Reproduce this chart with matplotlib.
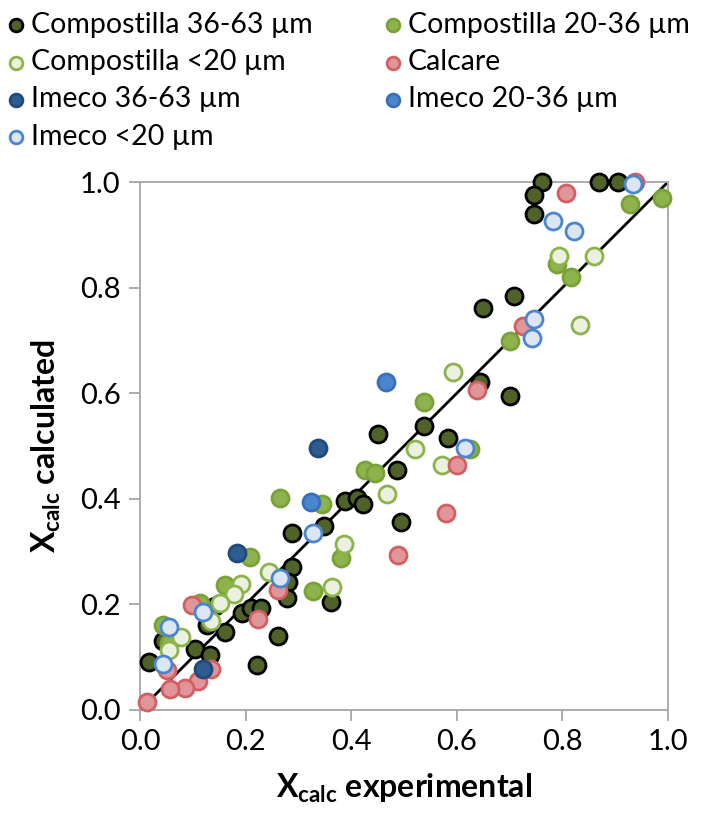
import numpy as np
import matplotlib
matplotlib.use('Agg')
from matplotlib import pyplot as plt

plt.rcParams['font.family'] = ['Lato', 'DejaVu Sans']
plt.rcParams['mathtext.fontset'] = 'custom'
plt.rcParams['mathtext.rm'] = 'Lato'
plt.rcParams['mathtext.bf'] = 'Lato:bold'

# Compostilla 36-63 um
comp_big_x = [0.762, 0.747, 0.746, 0.869, 0.906, 0.709, 0.650, 0.644, 0.701, 0.537, 0.584, 0.450,
              0.487, 0.494, 0.388, 0.410, 0.423, 0.349, 0.287, 0.287, 0.280, 0.278, 0.361, 0.262,
              0.222, 0.193, 0.211, 0.230, 0.142, 0.126, 0.160, 0.105, 0.133, 0.044, 0.017]
comp_big_y = [1.000, 0.975, 0.939, 1.000, 1.000, 0.784, 0.761, 0.622, 0.595, 0.538, 0.516, 0.523,
              0.455, 0.356, 0.396, 0.402, 0.390, 0.348, 0.336, 0.271, 0.243, 0.212, 0.204, 0.140,
              0.085, 0.183, 0.193, 0.194, 0.196, 0.161, 0.148, 0.115, 0.104, 0.131, 0.090]

# Compostilla 20-36 um
comp_mid_x = [0.928, 0.989, 0.790, 0.816, 0.700, 0.537, 0.625, 0.426, 0.445, 0.265, 0.344, 0.381,
              0.327, 0.208, 0.160, 0.114, 0.044, 0.054]
comp_mid_y = [0.958, 0.969, 0.844, 0.820, 0.698, 0.584, 0.494, 0.455, 0.448, 0.401, 0.391, 0.287,
              0.226, 0.290, 0.236, 0.202, 0.161, 0.126]

# Compostilla <20 um
comp_small_x = [0.794, 0.860, 0.833, 0.592, 0.521, 0.571, 0.467, 0.387, 0.363, 0.245, 0.192, 0.178,
                0.152, 0.134, 0.078, 0.054]
comp_small_y = [0.860, 0.859, 0.730, 0.640, 0.494, 0.464, 0.409, 0.314, 0.232, 0.261, 0.238, 0.220,
                0.202, 0.168, 0.139, 0.114]

# Calcare
calc_x = [0.9375, 0.807, 0.725, 0.639, 0.600, 0.580, 0.489, 0.262, 0.223, 0.098, 0.051, 0.134,
          0.110, 0.085, 0.057, 0.014]
calc_y = [1.000, 0.980, 0.727, 0.606, 0.464, 0.373, 0.294, 0.228, 0.172, 0.199, 0.076, 0.077,
          0.054, 0.041, 0.039, 0.016]

# Imeco
imeco_big_x = [0.183, 0.338, 0.120]
imeco_big_y = [0.298, 0.496, 0.078]
imeco_mid_x = [0.466, 0.324]
imeco_mid_y = [0.622, 0.393]
imeco_small_x = [0.934, 0.782, 0.821, 0.746, 0.742, 0.616, 0.328, 0.265, 0.120, 0.055, 0.044]
imeco_small_y = [0.996, 0.926, 0.907, 0.741, 0.704, 0.497, 0.336, 0.250, 0.186, 0.157, 0.088]

fig = plt.figure(figsize=(7.13, 8.33), dpi=100)
ax = fig.add_axes([0.1964, 0.1477, 0.7405, 0.6338])

# linea 1:1
ax.plot([0, 1], [0, 1], color='black', lw=2, zorder=1)

series = [
    (comp_big_x, comp_big_y, '#4f6228', '#000000', 'Compostilla 36-63 µm'),
    (comp_mid_x, comp_mid_y, '#8db34c', '#78a236', 'Compostilla 20-36 µm'),
    (comp_small_x, comp_small_y, '#ebf1de', '#8db34c', 'Compostilla <20 µm'),
    (calc_x, calc_y, '#e09598', '#d25f62', 'Calcare'),
    (imeco_big_x, imeco_big_y, '#2d5c91', '#1f4a7a', 'Imeco 36-63 µm'),
    (imeco_mid_x, imeco_mid_y, '#4a86d0', '#3a6fb6', 'Imeco 20-36 µm'),
    (imeco_small_x, imeco_small_y, '#dce6f2', '#4a86d0', 'Imeco <20 µm'),
]

handles = []
for x, y, fc, ec, nome in series:
    h = ax.scatter(x, y, s=150, facecolor=fc, edgecolor=ec, linewidth=2, label=nome,
                   zorder=3, clip_on=False)
    handles.append(h)

ax.set_xlim(0, 1)
ax.set_ylim(0, 1)
ticks = np.arange(0, 1.01, 0.2)
ax.set_xticks(ticks)
ax.set_yticks(ticks)
ax.set_xticklabels(['%.1f' % t for t in ticks])
ax.set_yticklabels(['%.1f' % t for t in ticks])
ax.tick_params(direction='out', length=8, width=1.3, color='#a6a6a6', labelsize=21, pad=6)
for s in ax.spines.values():
    s.set_color('#a6a6a6')
    s.set_linewidth(1.3)

ax.set_xlabel(r'X$_{\mathbf{calc}}$ experimental', fontsize=23, fontweight='bold', labelpad=12)
ax.set_ylabel(r'X$_{\mathbf{calc}}$ calculated', fontsize=23, fontweight='bold', labelpad=12)

# ordem da legenda por linhas (como no Excel)
ordem = [0, 2, 4, 6, 1, 3, 5]
fig.legend([handles[i] for i in ordem], [series[i][4] for i in ordem],
           loc='upper left', bbox_to_anchor=(-0.023, 1.01), ncol=2, frameon=False, fontsize=20.5,
           handletextpad=0.05, handlelength=0.9, columnspacing=2.4, labelspacing=0.4,
           scatterpoints=1, markerscale=0.75, borderaxespad=0.3)

fig.savefig('out.png', dpi=100)
